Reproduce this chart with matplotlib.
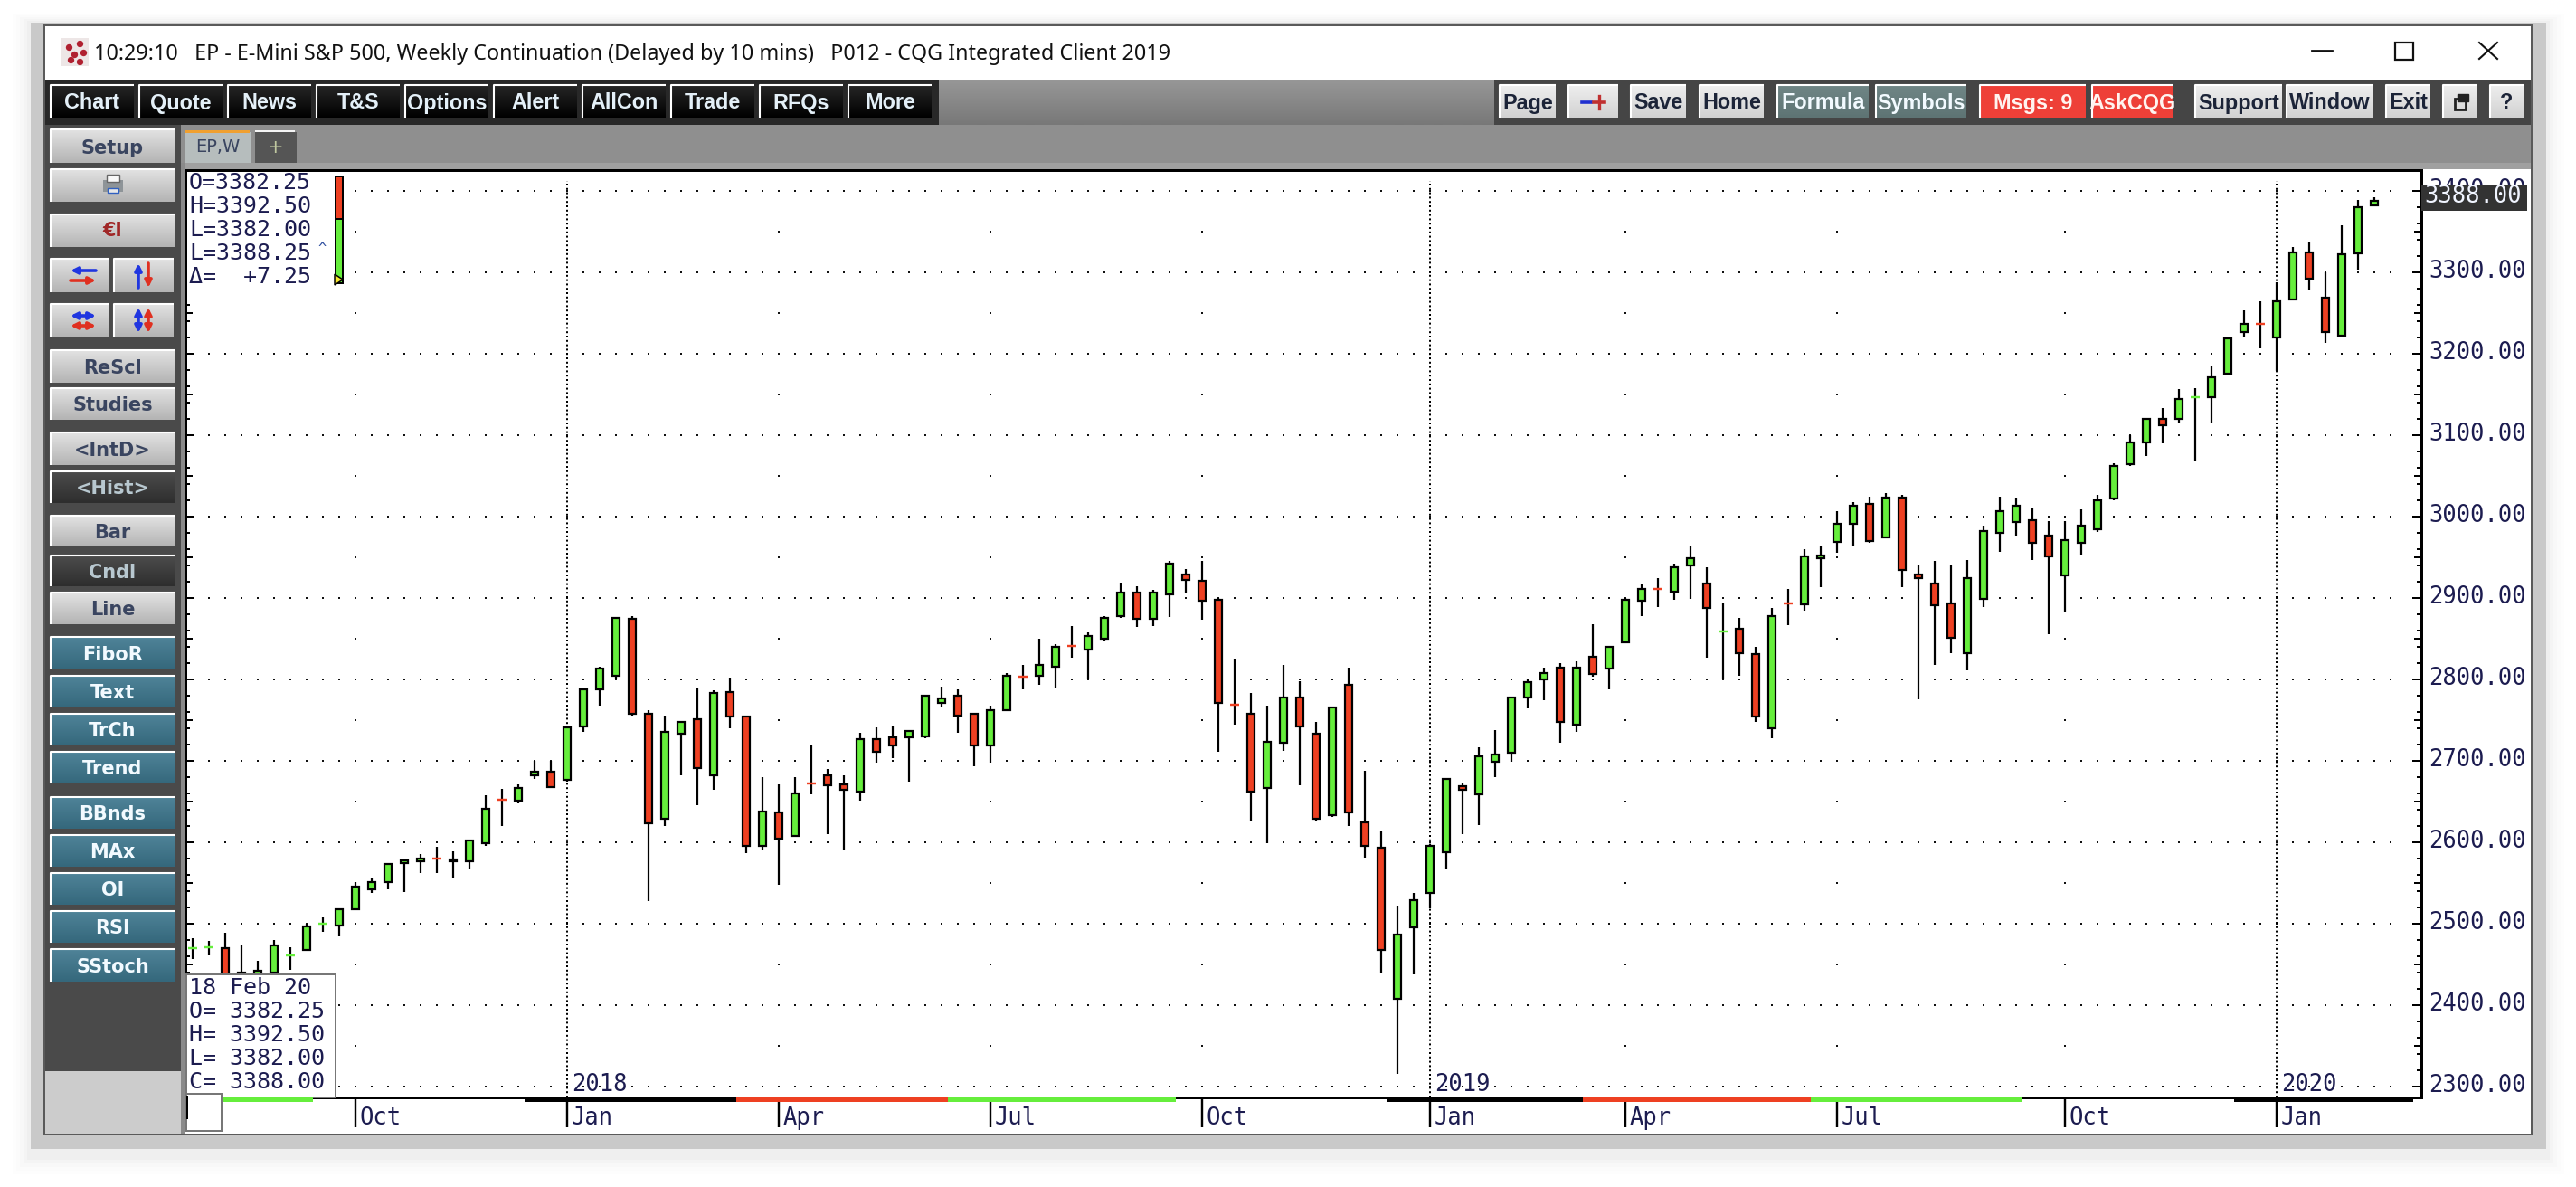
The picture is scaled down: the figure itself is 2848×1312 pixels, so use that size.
import numpy as np
import matplotlib
matplotlib.use('Agg')
import matplotlib.pyplot as plt
from matplotlib.patches import Rectangle, Polygon
from matplotlib.transforms import ScaledTranslation

W, H = 2848, 1312

# weekly candles
opens = [2470, 2471, 2470, 2440, 2430, 2440, 2461, 2467, 2500, 2498,
         2517, 2542, 2551, 2574, 2576, 2579.25, 2579, 2576, 2599, 2652.25,
         2651, 2682, 2686, 2676, 2742, 2788, 2804, 2874, 2758, 2629,
         2733, 2751, 2682, 2784, 2754, 2595, 2636, 2607, 2672.25, 2682,
         2671, 2662, 2726, 2729, 2729, 2730, 2771, 2780, 2758, 2719,
         2762, 2803.25, 2804, 2815, 2841.25, 2836, 2850, 2877, 2906, 2874,
         2904, 2929, 2921, 2898, 2768.25, 2758, 2666, 2722, 2778, 2733,
         2633, 2793, 2624, 2593, 2407, 2495, 2537, 2588, 2669, 2659,
         2699, 2710, 2777, 2800, 2814, 2744, 2827, 2813, 2845, 2896,
         2911.25, 2908, 2940, 2918, 2859, 2862, 2831, 2740, 2893.25, 2892,
         2949, 2969, 2991, 3015, 2974, 3023, 2929, 2918, 2893, 2832,
         2899, 2980, 2993, 2995, 2976, 2928, 2968, 2984, 3022, 3064,
         3091, 3120, 3120, 3147, 3147, 3175, 3226, 3236.25, 3220, 3267,
         3324, 3269, 3222, 3323, 3382.25]
highs = [2482, 2479, 2489, 2474, 2454, 2480, 2471, 2500, 2507, 2517,
         2551, 2556, 2573, 2580, 2585, 2594, 2589, 2602, 2658, 2665,
         2671, 2700, 2700, 2742, 2789, 2815, 2876, 2878, 2762, 2755,
         2749, 2789, 2786, 2802, 2755, 2680, 2671, 2680, 2719, 2690,
         2682, 2734, 2741, 2743, 2738, 2781, 2791, 2787, 2758, 2768,
         2807, 2818, 2850, 2843, 2865, 2858, 2878, 2919, 2914, 2910,
         2945, 2935, 2945, 2900, 2825, 2783, 2768, 2818, 2797, 2747,
         2766, 2814, 2687, 2614, 2522, 2538, 2598, 2678, 2673, 2716,
         2738, 2778, 2800, 2814, 2820, 2822, 2867, 2840, 2900, 2916,
         2924, 2942, 2963, 2938, 2893, 2875, 2840, 2887, 2911, 2960,
         2963, 3007, 3018, 3024, 3029, 3027, 2940, 2945, 2940, 2947,
         2989, 3024, 3023, 3011, 2994, 2994, 3009, 3027, 3065, 3100,
         3120, 3133, 3156, 3158, 3185, 3219, 3253, 3264, 3288, 3331,
         3338, 3300, 3358, 3389, 3392.5]
lows = [2456, 2461, 2420, 2420, 2425, 2438, 2443, 2467, 2490, 2484,
        2516, 2537, 2542, 2539, 2562, 2562, 2555, 2566, 2595, 2620,
        2648, 2677, 2666, 2674, 2735, 2768, 2800, 2755, 2528, 2620,
        2682, 2645, 2664, 2740, 2586, 2591, 2548, 2607, 2659, 2610,
        2591, 2651, 2698, 2703, 2674, 2728, 2766, 2734, 2693, 2697,
        2762, 2787, 2793, 2790, 2826, 2800, 2847, 2875, 2864, 2865,
        2876, 2905, 2873, 2711, 2744, 2626, 2599, 2712, 2670, 2626,
        2631, 2620, 2581, 2440, 2315, 2437, 2519, 2566, 2610, 2621,
        2680, 2699, 2764, 2774, 2722, 2735, 2803, 2788, 2845, 2877,
        2889, 2897, 2899, 2826, 2800, 2804, 2748, 2728, 2866, 2884,
        2913, 2955, 2964, 2968, 2973, 2913, 2775, 2817, 2832, 2811,
        2889, 2957, 2977, 2946, 2855, 2882, 2953, 2981, 3020, 3062,
        3074, 3090, 3115, 3069, 3115, 3174, 3221, 3206, 3179, 3267,
        3279, 3213, 3222, 3303, 3382]
closes = [2470.25, 2471.25, 2430, 2432, 2442, 2473, 2461.25, 2496, 2500.25, 2517,
          2545, 2551, 2573, 2578, 2580, 2579, 2576, 2602, 2641, 2652,
          2666, 2686, 2668, 2741, 2788, 2813, 2875, 2758, 2623, 2735,
          2747, 2691, 2783, 2754, 2595, 2638, 2604, 2660, 2672, 2670,
          2664, 2726, 2711, 2719, 2736, 2780, 2776, 2755, 2719, 2762,
          2804, 2803, 2817, 2840, 2841, 2853, 2875, 2906, 2874, 2906,
          2942, 2922, 2896, 2771, 2768, 2662, 2723, 2778, 2742, 2629,
          2765, 2636, 2595, 2467, 2486, 2529, 2595, 2678, 2664, 2705,
          2707, 2778, 2796, 2807, 2748, 2814, 2806, 2840, 2898, 2911,
          2911, 2938, 2949, 2887, 2859.25, 2832, 2754, 2878, 2893, 2951,
          2952, 2991, 3013, 2970, 3023, 2934, 2924, 2891, 2851, 2924,
          2982, 3007, 3013, 2968, 2951, 2971, 2989, 3020, 3062, 3091,
          3120, 3112, 3144, 3147.25, 3171, 3219, 3236, 3236, 3264, 3324,
          3292, 3227, 3322, 3380, 3388]

month_weeks = [10, 23, 36, 49, 62, 76, 88, 101, 115, 128]
month_labels = ['Oct', 'Jan', 'Apr', 'Jul', 'Oct', 'Jan', 'Apr', 'Jul', 'Oct', 'Jan']
year_weeks = [23, 76, 128]
year_labels = ['2018', '2019', '2020']
price_levels = list(range(2300, 3500, 100))

GREEN = '#66EE3C'
RED = '#EE4022'
NAVY = '#1C1C50'
MONO = 'DejaVu Sans Mono'


def px(n):
    # pixels to points at dpi 100
    return n * 0.72


fig = plt.figure(figsize=(W / 100, H / 100), dpi=100, facecolor='white')

# window chrome, in pixel coordinates
bg = fig.add_axes([0, 0, 1, 1], zorder=0)
fg = fig.add_axes([0, 0, 1, 1], zorder=2)
for a in (bg, fg):
    a.set_xlim(0, W)
    a.set_ylim(H, 0)
    a.axis('off')
fg.patch.set_alpha(0)


def rect(a, x0, y0, x1, y1, color, ec='none', lw=0, z=1, alpha=None):
    a.add_patch(Rectangle((x0, y0), x1 - x0, y1 - y0, facecolor=color, edgecolor=ec,
                          linewidth=lw, zorder=z, alpha=alpha))


def gradient(x0, y0, x1, y1, top, bottom, z=2):
    c0 = np.array(matplotlib.colors.to_rgb(top))
    c1 = np.array(matplotlib.colors.to_rgb(bottom))
    t = np.linspace(0, 1, 32)[:, None, None]
    img = c0[None, None, :] * (1 - t) + c1[None, None, :] * t
    bg.imshow(img, extent=(x0, x1, y1, y0), aspect='auto', zorder=z, interpolation='bilinear')


def button(x0, y0, x1, y1, label, style='light', font='DejaVu Sans', size=15):
    styles = {'light': ('#E2E2E2', '#B4B4B4', '#3A4560'),
              'dark': ('#4C4C4C', '#2E2E2E', '#B8C8D0'),
              'teal': ('#4F8398', '#35687C', '#F2FAFF'),
              'black': ('#262626', '#000000', '#E4F0F8'),
              'slate': ('#708686', '#5E7474', '#F2FAFF'),
              'red': ('#EE4038', '#EE4038', '#FFF4F0'),
              'top': ('#EEEEEE', '#D2D2D2', '#1C2438')}
    top, bottom, tc = styles[style]
    rect(bg, x0 - 1, y0 + 3, x1 + 3, y1 + 4, '#333333', z=2)
    gradient(x0, y0, x1, y1, top, bottom, z=3)
    bg.plot([x0, x0, x1], [y1, y0, y0], color='white', lw=1.5, zorder=4, solid_capstyle='butt')
    if label:
        bg.text((x0 + x1) / 2, (y0 + y1) / 2 + 2, label, ha='center', va='center', color=tc,
                fontsize=size, fontweight='bold', family=font, zorder=5)


def arrow(x0, y0, x1, y1, color, style='-|>'):
    bg.annotate('', xy=(x1, y1), xytext=(x0, y0), zorder=6,
                arrowprops=dict(arrowstyle=style, color=color, lw=2.6, mutation_scale=11,
                                shrinkA=0, shrinkB=0))


# soft shadow and outer frame
for i, al in enumerate([0.006, 0.008, 0.012, 0.016, 0.02]):
    d = 20 - 4 * i
    rect(bg, 34 - d, 25 - d / 2, 2815 + d, 1270 + d + 8, '#000000', z=0, alpha=al)
rect(bg, 34, 25, 2815, 1270, '#C9C9C9', z=1)
rect(bg, 48, 27, 2800, 1255, '#5A5A5A', z=1)
rect(bg, 50, 29, 2798, 1253, '#FFFFFF', z=1)

# title bar
bg.add_patch(Rectangle((67, 42), 31, 31, facecolor='#EDE6E6', zorder=2))
for dx, dy in [(76, 52), (88, 48), (82, 60), (92, 58), (78, 66), (88, 68)]:
    bg.scatter([dx], [dy], s=28, color='#B02030', zorder=3, linewidths=0)
bg.text(104, 60, '10:29:10   EP - E-Mini S&P 500, Weekly Continuation (Delayed by 10 mins)   '
                 'P012 - CQG Integrated Client 2019',
        ha='left', va='center', fontsize=16.8, family='Noto Sans', color='#111111', zorder=3)
bg.plot([2556, 2578], [56, 56], color='#111111', lw=2, zorder=3)
bg.add_patch(Rectangle((2648, 47), 20, 19, facecolor='none', edgecolor='#111111', lw=1.6, zorder=3))
bg.plot([2741, 2761], [47, 65], color='#111111', lw=1.5, zorder=3)
bg.plot([2741, 2761], [65, 47], color='#111111', lw=1.5, zorder=3)

# toolbar strip
gradient(50, 88, 2798, 138, '#979797', '#787878', z=2)
rect(bg, 50, 138, 2798, 182, '#8F8F8F', z=2)
rect(bg, 50, 88, 1038, 138, '#282828', z=3)
rect(bg, 1652, 88, 2798, 138, '#454545', z=3)

top_left = ['Chart', 'Quote', 'News', 'T&S', 'Options', 'Alert', 'AllCon', 'Trade', 'RFQs', 'More']
for i, name in enumerate(top_left):
    button(56 + i * 98, 94, 148 + i * 98, 130, name, 'black', 'Liberation Sans', 16.8)

top_right = [(1658, 1720, 'Page', 'top'), (1734, 1789, '', 'top'), (1803, 1864, 'Save', 'top'),
             (1879, 1950, 'Home', 'top'), (1965, 2066, 'Formula', 'slate'),
             (2074, 2174, 'Symbols', 'slate'), (2189, 2306, 'Msgs: 9', 'red'),
             (2313, 2402, 'AskCQG', 'red'), (2427, 2523, 'Support', 'top'),
             (2528, 2624, 'Window', 'top'), (2638, 2687, 'Exit', 'top'),
             (2701, 2738, '', 'top'), (2753, 2790, '?', 'top')]
for x0, x1, name, style in top_right:
    button(x0, 94, x1, 130, name, style, 'Liberation Sans', 16.8)
bg.plot([1749, 1759], [113, 113], color='#2030D0', lw=2.6, zorder=6)
bg.plot([1762, 1774], [113, 113], color='#C03030', lw=2.6, zorder=6)
bg.plot([1768, 1768], [106, 120], color='#C03030', lw=2.4, zorder=6)
bg.add_patch(Rectangle((2714, 109), 12, 12, facecolor='none', edgecolor='#222222', lw=2, zorder=6))
bg.add_patch(Rectangle((2717, 104), 12, 8, facecolor='#222222', edgecolor='#222222', lw=1, zorder=6))

# side panel
rect(bg, 50, 138, 200, 1184, '#4A4A4A', z=3)
rect(bg, 50, 1184, 200, 1253, '#CCCCCC', z=3)
rect(bg, 200, 180, 205, 1253, '#8A8A8A', z=3)
rect(bg, 205, 180, 2798, 187, '#A0A0A0', z=3)

side = [(143, 180, 'Setup', 'light'), (187, 223, '', 'light'), (237, 273, '', 'light'),
        (387, 423, 'ReScl', 'light'), (429, 464, 'Studies', 'light'),
        (478, 514, '<IntD>', 'light'), (521, 556, '<Hist>', 'dark'),
        (570, 604, 'Bar', 'light'), (614, 648, 'Cndl', 'dark'), (655, 690, 'Line', 'light'),
        (704, 740, 'FiboR', 'teal'), (747, 782, 'Text', 'teal'), (789, 824, 'TrCh', 'teal'),
        (831, 866, 'Trend', 'teal'), (881, 916, 'BBnds', 'teal'), (923, 958, 'MAx', 'teal'),
        (965, 1000, 'OI', 'teal'), (1007, 1042, 'RSI', 'teal'), (1049, 1085, 'SStoch', 'teal')]
for y0, y1, name, style in side:
    button(56, y0, 193, y1, name, style)

# icon buttons
rect(bg, 114, 199, 136, 212, '#8E9498', z=6)
rect(bg, 118, 193, 132, 201, '#F8F8F8', ec='#666666', lw=1, z=7)
rect(bg, 119, 208, 131, 213, '#E8E8E8', ec='#3060C0', lw=1, z=7)
bg.text(124, 255, '€l', ha='center', va='center', fontsize=15, fontweight='bold',
        color='#A02828', zorder=6)
for x0, x1 in [(56, 120), (126, 192)]:
    button(x0, 286, x1, 323, '')
    button(x0, 336, x1, 372, '')
arrow(106, 299, 78, 299, '#2036E0')
arrow(78, 310, 106, 310, '#E03020')
arrow(153, 318, 153, 291, '#2036E0')
arrow(164, 291, 164, 318, '#E03020')
arrow(78, 349, 106, 349, '#2036E0', '<|-|>')
arrow(78, 360, 106, 360, '#E03020', '<|-|>')
arrow(153, 340, 153, 368, '#2036E0', '<|-|>')
arrow(164, 340, 164, 368, '#E03020', '<|-|>')

# tabs
rect(bg, 205, 146, 278, 180, '#B6BDBD', z=4)
rect(bg, 205, 144, 276, 147, '#F0A030', z=5)
bg.text(241, 162, 'EP,W', ha='center', va='center', fontsize=14, color='#3A4560', zorder=6)
rect(bg, 282, 146, 328, 180, '#555555', z=4)
rect(bg, 282, 144, 326, 146, '#F4F4F4', z=5)
bg.text(305, 163, '+', ha='center', va='center', fontsize=15, color='#C0C8A0', zorder=6)

# white scale and date areas
rect(bg, 205, 187, 2794, 1252, '#FFFFFF', z=3)

# price chart, placed so weeks and prices land on the screenshot's pixels
left, right, top, bottom = 205, 2677, 188, 1212.6
ax = fig.add_axes([left / W, 1 - bottom / H, (right - left) / W, (bottom - top) / H], zorder=1)
ax.set_xlim((left - 212.9) / 18.0, (right - 212.9) / 18.0)
ax.set_ylim(3400 - (bottom - 210.9) / 0.8998, 3400 + (210.9 - top) / 0.8998)
ax.patch.set_alpha(0)
for side_name in ('top', 'left', 'right', 'bottom'):
    ax.spines[side_name].set_linewidth(px(3))
    ax.spines[side_name].set_color('black')

weeks = np.arange(len(opens))
o, h, l, c = map(np.array, (opens, highs, lows, closes))
colors = np.where(c > o, GREEN, RED)
doji = np.abs(c - o) < 1

# grid dots: one per week on the hundreds, quarter lines every fifty
dot_weeks = np.arange(1, 136)
for level in price_levels:
    ax.scatter(dot_weeks, np.full(dot_weeks.size, level), marker='s', s=2.6, color='#111111',
               linewidths=0, zorder=1, clip_on=False)
half_levels = np.arange(2350, 3400, 100)
for wk in month_weeks:
    if wk in year_weeks:
        continue
    ax.scatter(np.full(half_levels.size, wk), half_levels, marker='s', s=2.6, color='#111111',
               linewidths=0, zorder=1)
ax.vlines(year_weeks, ax.get_ylim()[0], 3412, color='black', lw=px(2),
          linestyles=[(0, (1, 1.4))], zorder=1)

ax.vlines(weeks, l, h, color='black', lw=px(2.2), zorder=2)
body = ~doji
ax.bar(weeks[body], np.abs(c - o)[body], bottom=np.minimum(o, c)[body], width=0.47,
       color=colors[body], edgecolor='black', linewidth=px(2.2), zorder=3)
ax.hlines(o[doji], weeks[doji] - 0.29, weeks[doji] + 0.29, colors=colors[doji], lw=px(2.4), zorder=3)

# axes ticks and labels
ax.yaxis.tick_right()
ax.set_yticks(price_levels)
ax.set_yticklabels(['%d.00' % p for p in price_levels], family=MONO, fontsize=18.4, color=NAVY)
ax.set_yticks(np.arange(2300, 3420, 20), minor=True)
ax.tick_params(axis='y', which='major', left=True, right=True, labelright=True, direction='in',
               length=px(10), width=px(2), pad=px(8))
ax.tick_params(axis='y', which='minor', left=True, right=True, direction='in', length=px(5), width=px(2))
lift = ScaledTranslation(0, 3.5 / 100, fig.dpi_scale_trans)
for lab in ax.get_yticklabels():
    lab.set_transform(lab.get_transform() + lift)
ax.hlines(np.arange(2350, 3400, 100), 0, 8 / (right - left), transform=ax.get_yaxis_transform(),
          color='black', lw=px(2))
ax.hlines(np.arange(2350, 3400, 100), 1 - 8 / (right - left), 1, transform=ax.get_yaxis_transform(),
          color='black', lw=px(2))

ax.set_xticks(month_weeks)
ax.set_xticklabels(month_labels, family=MONO, fontsize=18.4, color=NAVY, ha='left')
ax.tick_params(axis='x', direction='out', length=px(33), width=px(2.4), pad=-px(23))
nudge = ScaledTranslation(5 / 100, 0, fig.dpi_scale_trans)
for lab in ax.get_xticklabels():
    lab.set_transform(lab.get_transform() + nudge)

for wk, yr in zip(year_weeks, year_labels):
    ax.annotate(yr, (wk, 2302), xytext=(px(5), 0), textcoords='offset points', ha='left',
                va='center', family=MONO, fontsize=18.4, color=NAVY, zorder=4)

# overlays on top of the chart
rect(fg, 207, 190, 388, 322, '#FFFFFF', z=1)
ohlc_rows = ['O=3382.25', 'H=3392.50', 'L=3382.00', 'L=3388.25', '\u0394=  +7.25']
for row, y in zip(ohlc_rows, [202, 228, 254, 280, 306]):
    fg.text(209, y, row, ha='left', va='center', family=MONO, fontsize=18, color=NAVY, zorder=3)
fg.text(351, 274, '^', ha='left', va='center', family=MONO, fontsize=11, color='#3050A0', zorder=3)
rect(fg, 371, 195, 379, 242, RED, ec='black', lw=px(2), z=2)
rect(fg, 371, 242, 379, 313, GREEN, ec='black', lw=px(2), z=2)
fg.add_patch(Polygon([(370, 303), (379, 309), (370, 315)], closed=True, facecolor='#F8E830',
                     edgecolor='black', lw=px(1.5), zorder=4))

rect(fg, 206, 1077, 371, 1213, '#FFFFFF', ec='#777777', lw=px(2), z=1)
box_rows = ['18 Feb 20', 'O= 3382.25', 'H= 3392.50', 'L= 3382.00', 'C= 3388.00']
for row, y in zip(box_rows, [1092, 1118, 1144, 1170, 1196]):
    fg.text(209, y, row, ha='left', va='center', family=MONO, fontsize=18, color=NAVY, zorder=3)

# quarter colour strip under the plot
strip = [(245, 346, GREEN), (580, 814, 'black'), (814, 1048, RED), (1048, 1300, GREEN),
         (1534, 1750, 'black'), (1750, 2002, RED), (2002, 2236, GREEN), (2470, 2668, 'black')]
for x0, x1, col in strip:
    rect(fg, x0, 1213, x1, 1218, col, z=1)
rect(fg, 206, 1209, 245, 1250, '#FFFFFF', ec='#777777', lw=px(2), z=2)
fg.plot([207, 207], [1212, 1236], color='black', lw=px(2), zorder=3)

# last price flag covers the 3400 label
rect(fg, 2677, 204.5, 2794, 232.5, '#333333', z=2)
fg.text(2680, 217, '3388.00', ha='left', va='center', family=MONO, fontsize=18.4,
        color='#F0F4FF', zorder=3)

fig.savefig('out.png', dpi=100)
